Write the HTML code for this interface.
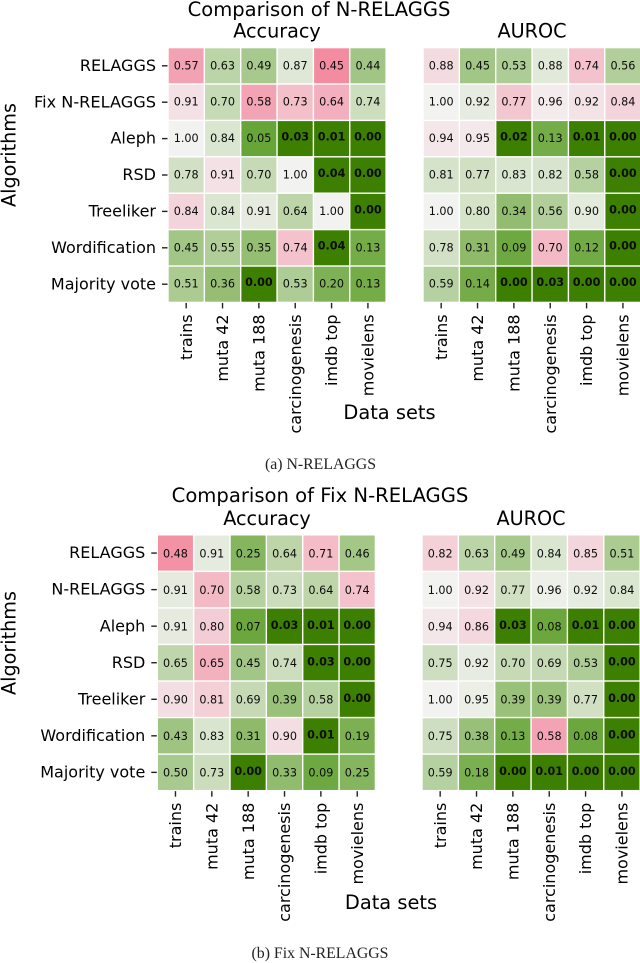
<!DOCTYPE html>
<html>
<head>
<meta charset="utf-8">
<title>Comparison of N-RELAGGS and Fix N-RELAGGS</title>
<style>
html,body{margin:0;padding:0;background:#fff;width:640px;height:963px;overflow:hidden}
svg{display:block;font-family:"DejaVu Sans","Liberation Sans",sans-serif;fill:#000}
.cap{font-family:"Liberation Serif",serif;font-size:15.8px;fill:#222}
</style>
</head>
<body>
<svg id="chart" xmlns="http://www.w3.org/2000/svg" width="640" height="963" viewBox="0 0 640 963">
  <text x="319" y="16" font-size="19.55" text-anchor="middle">Comparison of N-RELAGGS</text>
  <text transform="translate(15.5,155) rotate(-90)" font-size="19.2" text-anchor="middle">Algorithms</text>
  <text x="389.5" y="419" font-size="19.4" text-anchor="middle">Data sets</text>
  <text class="cap" x="320.5" y="469" text-anchor="middle">(a) N-RELAGGS</text>
  <text x="320" y="502" font-size="19.6" text-anchor="middle">Comparison of Fix N-RELAGGS</text>
  <text transform="translate(15.5,643) rotate(-90)" font-size="19.2" text-anchor="middle">Algorithms</text>
  <text x="391" y="909" font-size="19.4" text-anchor="middle">Data sets</text>
  <text class="cap" x="320" y="958" text-anchor="middle">(b) Fix N-RELAGGS</text>
</svg>
<script>
const datasets = ["trains","muta 42","muta 188","carcinogenesis","imdb top","movielens"];
const algorithmsA = ["RELAGGS","Fix N-RELAGGS","Aleph","RSD","Treeliker","Wordification","Majority vote"];
const algorithmsB = ["RELAGGS","N-RELAGGS","Aleph","RSD","Treeliker","Wordification","Majority vote"];

const accuracyA = [
  [0.57,0.63,0.49,0.87,0.45,0.44],
  [0.91,0.70,0.58,0.73,0.64,0.74],
  [1.00,0.84,0.05,0.03,0.01,0.00],
  [0.78,0.91,0.70,1.00,0.04,0.00],
  [0.84,0.84,0.91,0.64,1.00,0.00],
  [0.45,0.55,0.35,0.74,0.04,0.13],
  [0.51,0.36,0.00,0.53,0.20,0.13]
];
const accuracyDirectionA = [
  [-1, 1, 1, 1,-1, 1],
  [-1, 1,-1,-1,-1, 1],
  [ 1, 1, 1, 1, 1, 1],
  [ 1,-1, 1, 1, 1, 1],
  [-1, 1, 1, 1, 1, 1],
  [ 1, 1, 1,-1, 1, 1],
  [ 1, 1, 1, 1, 1, 1]
];
const aurocA = [
  [0.88,0.45,0.53,0.88,0.74,0.56],
  [1.00,0.92,0.77,0.96,0.92,0.84],
  [0.94,0.95,0.02,0.13,0.01,0.00],
  [0.81,0.77,0.83,0.82,0.58,0.00],
  [1.00,0.80,0.34,0.56,0.90,0.00],
  [0.78,0.31,0.09,0.70,0.12,0.00],
  [0.59,0.14,0.00,0.03,0.00,0.00]
];
const aurocDirectionA = [
  [-1, 1, 1, 1,-1, 1],
  [ 1, 1,-1,-1,-1,-1],
  [-1,-1, 1, 1, 1, 1],
  [ 1, 1, 1, 1, 1, 1],
  [ 1, 1, 1, 1, 1, 1],
  [ 1, 1, 1,-1, 1, 1],
  [ 1, 1, 1, 1, 1, 1]
];
const accuracyB = [
  [0.48,0.91,0.25,0.64,0.71,0.46],
  [0.91,0.70,0.58,0.73,0.64,0.74],
  [0.91,0.80,0.07,0.03,0.01,0.00],
  [0.65,0.65,0.45,0.74,0.03,0.00],
  [0.90,0.81,0.69,0.39,0.58,0.00],
  [0.43,0.83,0.31,0.90,0.01,0.19],
  [0.50,0.73,0.00,0.33,0.09,0.25]
];
const accuracyDirectionB = [
  [-1, 1, 1, 1,-1, 1],
  [ 1,-1, 1, 1, 1,-1],
  [ 1,-1, 1, 1, 1, 1],
  [ 1,-1, 1, 1, 1, 1],
  [-1,-1, 1, 1, 1, 1],
  [ 1, 1, 1,-1, 1, 1],
  [ 1, 1, 1, 1, 1, 1]
];
const aurocB = [
  [0.82,0.63,0.49,0.84,0.85,0.51],
  [1.00,0.92,0.77,0.96,0.92,0.84],
  [0.94,0.86,0.03,0.08,0.01,0.00],
  [0.75,0.92,0.70,0.69,0.53,0.00],
  [1.00,0.95,0.39,0.39,0.77,0.00],
  [0.75,0.38,0.13,0.58,0.08,0.00],
  [0.59,0.18,0.00,0.01,0.00,0.00]
];
const aurocDirectionB = [
  [-1, 1, 1, 1,-1, 1],
  [ 1,-1, 1, 1, 1, 1],
  [-1,-1, 1, 1, 1, 1],
  [ 1, 1, 1, 1, 1, 1],
  [ 1, 1, 1, 1, 1, 1],
  [ 1, 1, 1,-1, 1, 1],
  [ 1, 1, 1, 1, 1, 1]
];

const NS = "http://www.w3.org/2000/svg";
const svg = document.getElementById("chart");
const CELL_W = 36.35;
const GAP = 1.4;

function mix(a, b, t) {
  return Math.round(a + (b - a) * t);
}
function cellColor(p, dir) {
  if (p < 0.05 && dir > 0) return "rgb(61,127,0)";
  const t = Math.min((1 - p) / 0.95, 1);
  if (dir > 0) return "rgb(" + mix(242, 104, t) + "," + mix(243, 165, t) + "," + mix(240, 56, t) + ")";
  return "rgb(" + mix(243, 244, t) + "," + mix(242, 66, t) + "," + mix(242, 102, t) + ")";
}
function xScale(panel, c) { return panel.x + c * CELL_W; }
function yScale(panel, r) { return panel.y + r * panel.h; }

function makeText(content, attrs) {
  const t = document.createElementNS(NS, "text");
  t.textContent = content;
  for (const k in attrs) t.setAttribute(k, attrs[k]);
  svg.appendChild(t);
  return t;
}

function drawPanel(panel) {
  panel.values.forEach(function (row, r) {
    row.forEach(function (p, c) {
      const rect = document.createElementNS(NS, "rect");
      rect.setAttribute("x", xScale(panel, c) + GAP / 2);
      rect.setAttribute("y", yScale(panel, r) + GAP / 2);
      rect.setAttribute("width", CELL_W - GAP);
      rect.setAttribute("height", panel.h - GAP);
      rect.setAttribute("fill", cellColor(p, panel.direction[r][c]));
      
      
      svg.appendChild(rect);
      const label = makeText(p.toFixed(2), {
        x: xScale(panel, c) + CELL_W / 2,
        y: yScale(panel, r) + panel.h / 2 + (p < 0.05 ? panel.boldDy : panel.textDy),
        "font-size": 11.2,
        "text-anchor": "middle",
        "font-weight": p < 0.05 ? "bold" : "normal",
        fill: "#0c0c0c"
      });
      
      
    });
  });

  if (panel.rowLabels) {
    panel.rowLabels.forEach(function (name, r) {
      const cy = yScale(panel, r) + panel.h / 2;
      const tick = document.createElementNS(NS, "rect");
      tick.setAttribute("x", panel.x - 6);
      tick.setAttribute("y", cy - 0.7);
      tick.setAttribute("width", 5.5);
      tick.setAttribute("height", 1.4);
      tick.setAttribute("fill", "#222");
      
      
      svg.appendChild(tick);
      const label = makeText(name, {
        x: panel.x - 12,
        y: cy + 5.1,
        "font-size": 16,
        "text-anchor": "end"
      });
      
      
      if (name === "Fix N-RELAGGS") {
        label.setAttribute("textLength", "122");
        label.setAttribute("lengthAdjust", "spacingAndGlyphs");
      }
    });
  }

  const bottom = yScale(panel, panel.values.length);
  datasets.forEach(function (name, c) {
    const cx = xScale(panel, c) + CELL_W / 2;
    const tick = document.createElementNS(NS, "rect");
    tick.setAttribute("x", cx - 0.7);
    tick.setAttribute("y", bottom + 0.5);
    tick.setAttribute("width", 1.4);
    tick.setAttribute("height", 5.5);
    tick.setAttribute("fill", "#222");
    
    
    svg.appendChild(tick);
    const label = makeText(name, {
      transform: "translate(" + (cx + 5.6) + "," + (bottom + 12) + ") rotate(-90)",
      "font-size": 16,
      "text-anchor": "end"
    });
    
    
  });

  const title = makeText(panel.title, {
    x: panel.titleX,
    y: panel.titleY,
    "font-size": 19.2,
    "text-anchor": "middle"
  });
  
  
}

drawPanel({ x: 168.0, y: 47.6, h: 36.4, textDy: 3.5, boldDy: 1.9, values: accuracyA, direction: accuracyDirectionA, rowLabels: algorithmsA, title: "Accuracy", titleX: 277, titleY: 37.5 });
drawPanel({ x: 423.0, y: 47.6, h: 36.4, textDy: 3.5, boldDy: 1.9, values: aurocA, direction: aurocDirectionA, rowLabels: null, title: "AUROC", titleX: 532, titleY: 37.5 });
drawPanel({ x: 157.3, y: 534.8, h: 36.55, textDy: 4.2, boldDy: 2.6, values: accuracyB, direction: accuracyDirectionB, rowLabels: algorithmsB, title: "Accuracy", titleX: 267, titleY: 525 });
drawPanel({ x: 422.0, y: 534.8, h: 36.55, textDy: 4.2, boldDy: 2.6, values: aurocB, direction: aurocDirectionB, rowLabels: null, title: "AUROC", titleX: 531, titleY: 525 });
</script>
</body>
</html>
